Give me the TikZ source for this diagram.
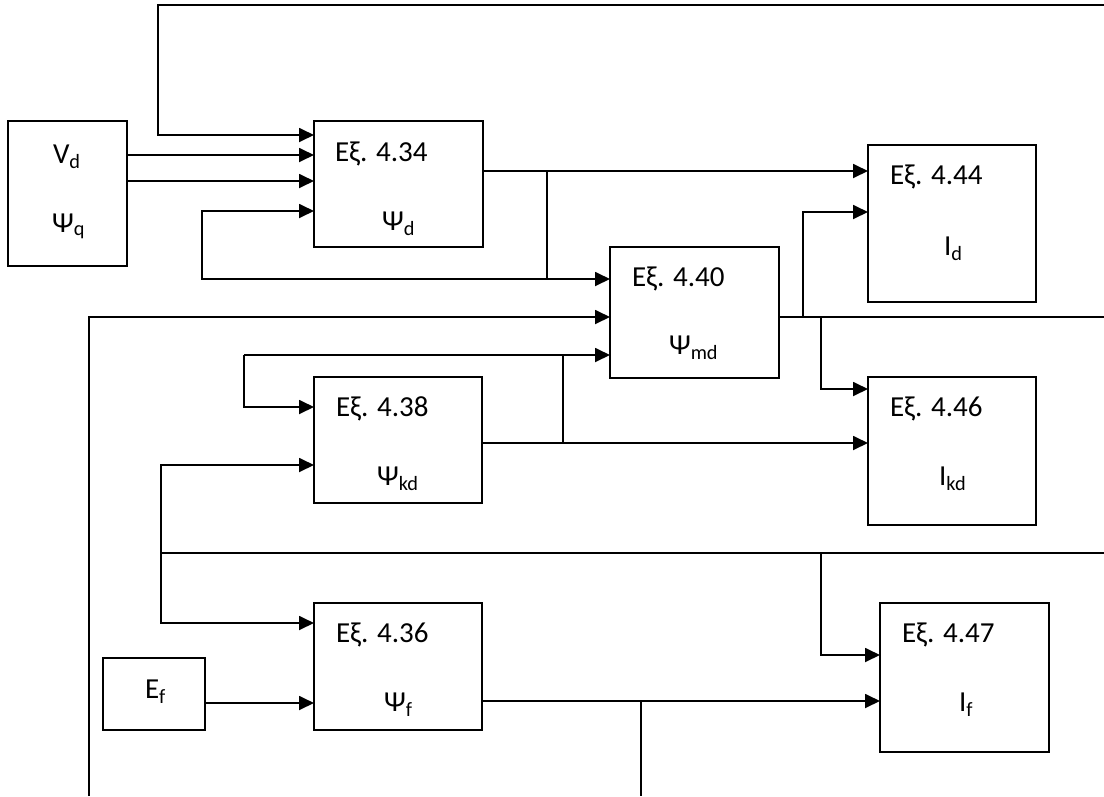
\documentclass[tikz,border=0pt]{standalone}
\usepackage{fontspec}
\setmainfont{Carlito}
\usetikzlibrary{arrows.meta}

\begin{document}
\begin{tikzpicture}[x=1pt,y=-1pt,line cap=rect]
\useasboundingbox (0,0) rectangle (1104,796);
\definecolor{custcol_0_0_0}{RGB}{0, 0, 0}
\tikzset{
  blk/.style={draw=custcol_0_0_0, line width=1.8pt, inner sep=0, outer sep=0, anchor=north west},
  conn/.style={line width=1.8pt, custcol_0_0_0, line cap=butt},
  arr/.style={conn, -{Triangle[length=15pt,width=14pt]}},
  lbl/.style={inner sep=0, outer sep=0, custcol_0_0_0, anchor=base west,
    font=\fontsize{29pt}{29pt}\selectfont}
}
% blocks
\node[blk, minimum width=119pt, minimum height=145pt] (bVd)  at (8,121)   {};
\node[blk, minimum width=169pt, minimum height=126pt] (b434) at (314,121) {};
\node[blk, minimum width=169pt, minimum height=131pt] (b440) at (610,247) {};
\node[blk, minimum width=168pt, minimum height=157pt] (b444) at (868,145) {};
\node[blk, minimum width=168pt, minimum height=126pt] (b438) at (314,377) {};
\node[blk, minimum width=168pt, minimum height=148pt] (b446) at (868,377) {};
\node[blk, minimum width=168pt, minimum height=127pt] (b436) at (314,603) {};
\node[blk, minimum width=102pt, minimum height=72pt]  (bEf)  at (103,658) {};
\node[blk, minimum width=169pt, minimum height=149pt] (b447) at (880,603) {};
% texts
\node[lbl] (tVd)  at (53,163)  {V\textsubscript{d}};
\node[lbl] (tPq)  at (52,232)  {Ψ\textsubscript{q}};
\node[lbl] (t434) at (335,161) {Eξ. 4.34};
\node[lbl] (s434) at (382,230) {Ψ\textsubscript{d}};
\node[lbl] (t440) at (632,286) {Eξ. 4.40};
\node[lbl] (s440) at (669,354) {Ψ\textsubscript{md}};
\node[lbl] (t444) at (890,184) {Eξ. 4.44};
\node[lbl] (s444) at (944,255) {I\textsubscript{d}};
\node[lbl] (t438) at (336,416) {Eξ. 4.38};
\node[lbl] (s438) at (377,485) {Ψ\textsubscript{kd}};
\node[lbl] (t446) at (890,416) {Eξ. 4.46};
\node[lbl] (s446) at (939,485) {I\textsubscript{kd}};
\node[lbl] (t436) at (336,642) {Eξ. 4.36};
\node[lbl] (s436) at (384,711) {Ψ\textsubscript{f}};
\node[lbl] (t447) at (902,642) {Eξ. 4.47};
\node[lbl] (s447) at (959,711) {I\textsubscript{f}};
\node[lbl] (tEf)  at (145,698) {E\textsubscript{f}};
% corners and junctions
\coordinate (topR) at (1104,5);
\coordinate (topL) at (158,5);
\coordinate (fbL)  at (202,279);
\coordinate (jA)   at (547,171);
\coordinate (jB)   at (547,279);
\coordinate (leftB) at (89,796);
\coordinate (leftT) at (89,317);
\coordinate (kdL)  at (244,355);
\coordinate (jC)   at (563,355);
\coordinate (jD)   at (563,443);
\coordinate (mdR)  at (1104,317);
\coordinate (jE)   at (803,317);
\coordinate (jF)   at (821,317);
\coordinate (fR)   at (1104,553);
\coordinate (fL)   at (161,553);
\coordinate (jG)   at (821,553);
\coordinate (jH)   at (641,701);
\coordinate (botH) at (641,796);
% connectors
\draw[arr] (topR) -- (topL) |- (b434.west |- 0,135);
\draw[arr] (bVd.east |- 0,155) -- (b434.west |- 0,155);
\draw[arr] (bVd.east |- 0,181) -- (b434.west |- 0,181);
\draw[arr] (jB) -- (fbL) |- (b434.west |- 0,211);
\draw[arr] (b434.east |- jA) -- (b444.west |- jA);
\draw[arr] (jA) -- (jB) -- (b440.west |- jB);
\draw[arr] (leftB) -- (leftT) -- (b440.west |- leftT);
\draw[arr] (kdL) -- (b440.west |- kdL);
\draw[arr] (kdL) |- (b438.west |- 0,407);
\draw[conn] (jC) -- (jD);
\draw[arr] (b438.east |- jD) -- (b446.west |- jD);
\draw[conn] (b440.east |- mdR) -- (mdR);
\draw[arr] (jE) |- (b444.west |- 0,212);
\draw[arr] (jF) |- (b446.west |- 0,389);
\draw[conn] (fR) -- (fL);
\draw[arr] (fL) |- (b438.west |- 0,465);
\draw[arr] (fL) |- (b436.west |- 0,623);
\draw[arr] (jG) |- (b447.west |- 0,655);
\draw[arr] (bEf.east |- 0,703) -- (b436.west |- 0,703);
\draw[arr] (b436.east |- jH) -- (b447.west |- jH);
\draw[conn] (jH) -- (botH);
\end{tikzpicture}
\end{document}
